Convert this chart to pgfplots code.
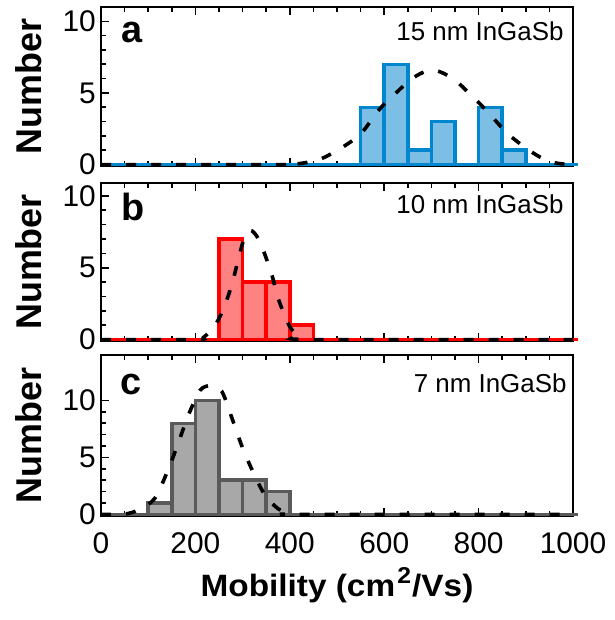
\documentclass[border=0pt]{standalone}
\usepackage{pgfplots}
\pgfplotsset{compat=1.18}
\usepackage{fontspec}
\setmainfont{Liberation Sans}
\definecolor{blueE}{RGB}{0,134,204}
\definecolor{blueF}{RGB}{125,190,228}
\definecolor{redE}{RGB}{255,0,0}
\definecolor{redF}{RGB}{255,130,130}
\definecolor{grayE}{RGB}{90,90,90}
\definecolor{grayF}{RGB}{168,168,168}
\pgfplotsset{
 panel/.style={
  scale only axis, width=472bp, clip=false,
  xmin=0,xmax=1000, xtick={0,200,...,1000}, minor x tick num=3,
  ytick={0,5,10}, minor y tick num=4,
  xtick pos=both, ytick pos=left, tick align=inside,
  major tick length=8bp, minor tick length=5bp,
  axis line style={line width=1.8bp},
  tick style={black,line width=1.6bp},
  tick label style={font=\fontsize{30}{30}\selectfont},
  /pgf/number format/assume math mode=true,
  /pgf/number format/set thousands separator={},
  yticklabel style={anchor=east, inner sep=0pt, xshift=-5bp},
  xticklabel style={anchor=base, inner sep=0pt, yshift=-37bp},
 },
 zline/.style={line width=3.3bp},
 bars/.style={ybar interval, line width=3.5bp},
 fit/.style={black, line width=3.6bp, dash pattern=on 10bp off 15bp, smooth},
}
\newcommand{\numlab}{\node[xshift=-59bp, rotate=90, anchor=base, font=\fontsize{36}{36}\selectfont\bfseries] at (rel axis cs:0,0.5) {Number};}
\begin{document}
\begin{tikzpicture}
\path[use as bounding box] (0,0) rectangle (615bp,-620bp);
% panel a
\begin{axis}[panel, at={(101bp,-7bp)}, anchor=north west, height=159bp, ymin=-0.1, ymax=11, xticklabels={}]
\addplot[bars, draw=blueE, fill=blueF] coordinates {(550,4) (600,7) (650,1) (700,3) (750,0) (800,4) (850,1) (900,0)};
\addplot[zline, blueE] coordinates {(0,0) (1010,0)};
\addplot[fit] coordinates {(0,0) (380,0) (410,0.03) (436,0.15) (466,0.4) (496,0.9) (525,1.5) (552,2.2) (591,3.9) (625,5.0) (655,5.9) (680,6.4) (704,6.6) (730,6.3) (757,5.7) (782,4.9) (807,4.1) (835,3.1) (860,2.2) (890,1.4) (916,0.8) (940,0.35) (962,0.12) (985,0.02) (1000,0)};
\node[anchor=base west, font=\fontsize{38}{38}\selectfont\bfseries] at (rel axis cs:0,1) [xshift=17bp, yshift=-35bp] {a};
\node[anchor=base east, font=\fontsize{26}{26}\selectfont] at (rel axis cs:1,1) [xshift=-6bp, yshift=-33bp] {15 nm InGaSb};
\numlab
\end{axis}
% panel b
\begin{axis}[panel, at={(101bp,-183bp)}, anchor=north west, height=158bp, ymin=-0.1, ymax=10.9, xticklabels={}]
\addplot[bars, draw=redE, fill=redF] coordinates {(250,7) (300,4) (350,4) (400,1) (450,0)};
\addplot[zline, redE] coordinates {(0,0) (1010,0)};
\addplot[fit] coordinates {(0,0) (200,0) (217,0.15) (240,0.9) (259,2.1) (277,3.8) (291,5.6) (303,7.0) (316,7.6) (330,7.2) (344,6.2) (362,4.5) (376,2.8) (400,0.9) (420,0.25) (443,0) (1000,0)};
\node[anchor=base west, font=\fontsize{38}{38}\selectfont\bfseries] at (rel axis cs:0,1) [xshift=17bp, yshift=-37bp] {b};
\node[anchor=base east, font=\fontsize{26}{26}\selectfont] at (rel axis cs:1,1) [xshift=-6bp, yshift=-30bp] {10 nm InGaSb};
\numlab
\end{axis}
% panel c
\begin{axis}[panel, at={(101bp,-355bp)}, anchor=north west, height=161bp, ymin=-0.15, ymax=14]
\addplot[bars, draw=grayE, fill=grayF] coordinates {(100,1) (150,8) (200,10) (250,3) (300,3) (350,2) (400,0)};
\addplot[zline, grayE] coordinates {(0,0) (1010,0)};
\addplot[fit] coordinates {(0,0) (50,0.02) (80,0.4) (114,1.4) (143,4.0) (164,6.3) (185,8.7) (210,10.9) (233,11.3) (256,10.8) (277,8.5) (298,6.05) (319,4.0) (347,1.7) (375,0.5) (400,0.05) (420,0) (1000,0)};
\node[anchor=base west, font=\fontsize{38}{38}\selectfont\bfseries] at (rel axis cs:0,1) [xshift=16bp, yshift=-39bp] {c};
\node[anchor=base east, font=\fontsize{26}{26}\selectfont] at (rel axis cs:1,1) [xshift=-3bp, yshift=-37bp] {7 nm InGaSb};
\numlab
\node[anchor=base, font=\fontsize{31}{31}\selectfont\bfseries] at (rel axis cs:0.5,0) [yshift=-80.7bp] {\scalebox{1.08}[1]{Mobility (cm\hspace{2bp}\raisebox{13bp}{\fontsize{23}{23}\selectfont 2}\hspace{1bp}/Vs)}};
\end{axis}
\end{tikzpicture}
\end{document}
